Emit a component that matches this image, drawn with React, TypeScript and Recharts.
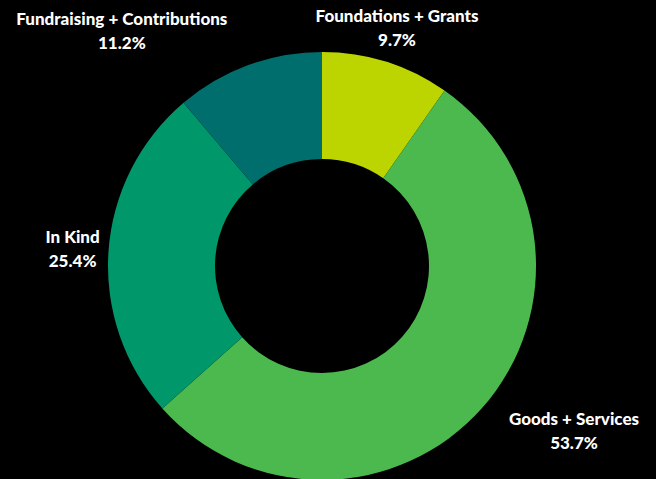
import { PieChart, Pie, Cell } from 'recharts'

const NAMES = ['Foundations + Grants', 'Goods + Services', 'In Kind', 'Fundraising + Contributions']
const SHARES = [9.7, 53.7, 25.4, 11.2]
const COLORS = ['#bcd500', '#4cb94e', '#00976a', '#006e6d']

// nudges for labels that sit too close to the edge / each other
const NUDGE: Record<string, [number, number]> = {
  'Goods + Services': [65, -1],
  'Fundraising + Contributions': [-114, -1],
}

const data = NAMES.map((name, i) => ({ name, value: SHARES[i] }))

const RADIAN = Math.PI / 180

function renderLabel(props: any) {
  const { cx, cy, midAngle, name, value } = props
  const r = 250
  const [nx, ny] = NUDGE[name] ?? [0, 0]
  const x = cx + r * Math.cos(-midAngle * RADIAN) + nx
  const y = cy + r * Math.sin(-midAngle * RADIAN) + ny
  return (
    <text
      x={x}
      y={y}
      fill="#ffffff"
      textAnchor="middle"
      fontFamily="Lato, sans-serif"
      fontWeight={900}
      fontSize={17}
    >
      <tspan x={x} y={y - 12} dominantBaseline="central">{name}</tspan>
      <tspan x={x} y={y + 12} dominantBaseline="central">{value.toFixed(1)}%</tspan>
    </text>
  )
}

export default function App() {
  return (
    <div style={{ position: 'fixed', left: 0, top: 0, width: 656, height: 479, background: '#000' }}>
      <PieChart width={656} height={479} margin={{ top: 0, right: 0, bottom: 0, left: 0 }}>
        <Pie
          data={data}
          dataKey="value"
          nameKey="name"
          cx={322}
          cy={266}
          innerRadius={107}
          outerRadius={214}
          startAngle={90}
          endAngle={-270}
          stroke="none"
          label={renderLabel}
          labelLine={false}
          isAnimationActive={false}
        >
          {data.map((_, i) => (
            <Cell key={i} fill={COLORS[i]} />
          ))}
        </Pie>
      </PieChart>
    </div>
  )
}
